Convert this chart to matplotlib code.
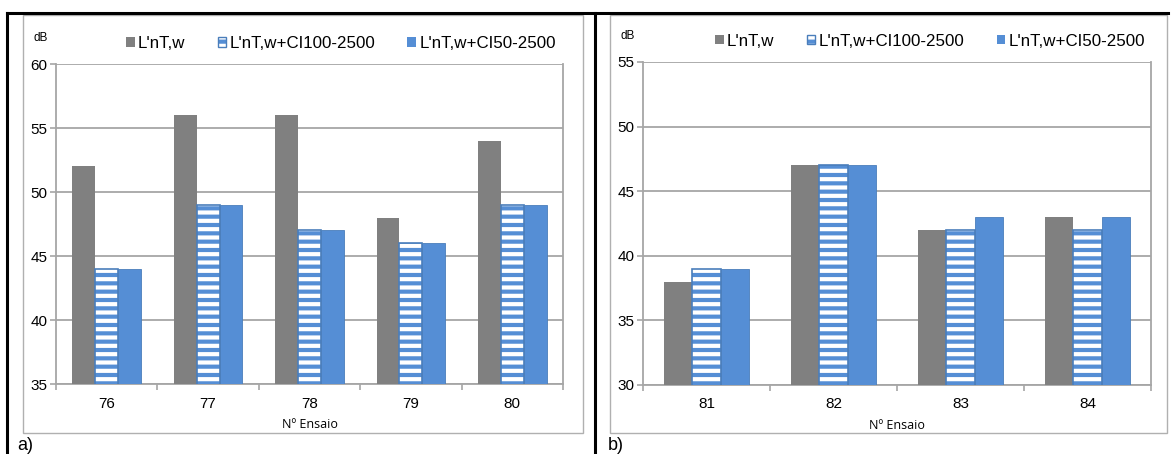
import matplotlib.pyplot as plt
from matplotlib.patches import Patch, Rectangle
from matplotlib.lines import Line2D
import numpy as np

plt.rcParams['font.family'] = ['Liberation Sans', 'DejaVu Sans']
plt.rcParams['hatch.linewidth'] = 3.0

# dados
ensaios_a = ["76", "77", "78", "79", "80"]
lnt_a = [52, 56, 56, 48, 54]
ci100_a = [44, 49, 47, 46, 49]
ci50_a = [44, 49, 47, 46, 49]

ensaios_b = ["81", "82", "83", "84"]
lnt_b = [38, 47, 42, 43]
ci100_b = [39, 47, 42, 42]
ci50_b = [39, 47, 43, 43]

legend_labels = ["L'nT,w", "L'nT,w+CI100-2500", "L'nT,w+CI50-2500"]

GRAY = '#808080'
BLUE = '#558ED5'
EDGE_BLUE = '#4A7EBB'
GRID = '#a6a6a6'

W, H = 1171, 454
fig = plt.figure(figsize=(W / 100, H / 100), dpi=100)


def px(x0, y0, x1, y1):
    # converte caixa em pixels para fração da figura
    return [x0 / W, 1 - y1 / H, (x1 - x0) / W, (y1 - y0) / H]


def draw_chart(ax, cats, s1, s2, s3, ymin, ymax, leg_x):
    x = np.arange(len(cats))
    bw = 0.225
    ax.bar(x - bw, s1, bw, color=GRAY, zorder=3)
    # barra listrada: fundo azul com listras brancas + contorno azul
    ax.bar(x, s2, bw, color=BLUE, edgecolor='white', hatch='--', linewidth=0, zorder=3)
    ax.bar(x, s2, bw, fill=False, edgecolor=EDGE_BLUE, linewidth=1.2, zorder=4)
    ax.bar(x + bw, s3, bw, color=BLUE, edgecolor=EDGE_BLUE, linewidth=0.6, zorder=3)

    ax.set_xlim(-0.5, len(cats) - 0.5)
    ax.set_ylim(ymin, ymax)
    ax.set_yticks(np.arange(ymin, ymax + 1, 5))
    ax.set_xticks(x)
    ax.set_xticklabels(cats)
    ax.set_xticks(np.arange(-0.5, len(cats)), minor=True)
    ax.tick_params(axis='x', which='major', length=0, labelsize=11, pad=9)
    ax.tick_params(axis='x', which='minor', length=4, color=GRID, width=1.2)
    ax.tick_params(axis='y', length=4, color=GRID, width=1.2, labelsize=11, pad=2)
    ax.yaxis.grid(True, color=GRID, linewidth=1.3, zorder=0)
    for side in ['left', 'bottom', 'right']:
        ax.spines[side].set_color(GRID)
        ax.spines[side].set_linewidth(1.3)
    ax.spines['top'].set_visible(False)
    ax.set_axisbelow(True)
    ax.set_xlabel("Nº Ensaio", family=['Open Sans', 'DejaVu Sans'], fontsize=9)
    ax.xaxis.set_label_coords(0.5, -0.105)
    ax.text(-0.03, 1.08, "dB", transform=ax.transAxes, fontsize=8.5, ha='center', va='center')

    handles = [
        Patch(facecolor=GRAY, edgecolor='none'),
        (Patch(facecolor=BLUE, edgecolor='white', hatch='--', linewidth=0),
         Patch(fill=False, edgecolor=EDGE_BLUE, linewidth=1.0)),
        Patch(facecolor=BLUE, edgecolor='none'),
    ]
    ax.legend(handles, legend_labels, ncol=3, frameon=False, fontsize=12.2,
              loc='center', bbox_to_anchor=(leg_x, 1.065),
              handlelength=0.5, handleheight=0.5, handletextpad=0.2,
              columnspacing=1.9, borderaxespad=0)


ax_a = fig.add_axes(px(56, 64, 563, 384))
draw_chart(ax_a, ensaios_a, lnt_a, ci100_a, ci50_a, 35, 60, 0.562)

ax_b = fig.add_axes(px(643, 62, 1151, 385))
draw_chart(ax_b, ensaios_b, lnt_b, ci100_b, ci50_b, 30, 55, 0.565)

# caixas dos gráficos
for x0, x1 in [(23, 583), (610, 1167)]:
    fig.patches.append(Rectangle((x0 / W, 1 - 433 / H), (x1 - x0) / W, (433 - 15) / H,
                                 transform=fig.transFigure, fill=False,
                                 edgecolor='#b0b0b0', linewidth=1.0))

# linhas pretas da tabela
for xs, ys in [([7, 1168], [13, 13]), ([7, 7], [13, 454]), ([595, 595], [13, 454])]:
    fig.lines.append(Line2D([v / W for v in xs], [1 - v / H for v in ys],
                            transform=fig.transFigure, color='black', linewidth=2.2))

fig.text(17 / W, 1 - 446 / H, "a)", fontsize=13, ha='left', va='center')
fig.text(608 / W, 1 - 446 / H, "b)", fontsize=13, ha='left', va='center')

fig.savefig("out.png", dpi=100)
